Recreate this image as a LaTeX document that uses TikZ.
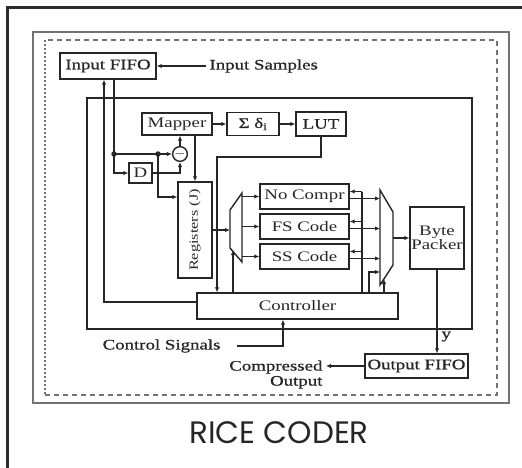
\documentclass[tikz,border=0pt]{standalone}
\usepackage{fontspec}
\setmainfont{Liberation Serif}[FakeStretch=1.3]
\newfontfamily\heavyfont{Liberation Serif}[FakeStretch=1.3, FakeBold=0.8]
\newfontfamily\titlefont{Poppins}
\usepackage{xcolor}
\usetikzlibrary{arrows.meta, positioning}
\definecolor{rcink}{RGB}{38,38,38}
\definecolor{rcgray}{RGB}{115,115,115}
\definecolor{rcframe}{RGB}{45,45,45}

\begin{document}
\begin{tikzpicture}[x=1pt, y=-1pt,
  every node/.style={font=\fontsize{14.5}{13}\selectfont, text=rcink},
  blk/.style={draw=rcink, line width=1.4pt, inner sep=1pt},
  lab/.style={font=\heavyfont\fontsize{14.5}{15}\selectfont},
  sig/.style={-{Latex[length=5pt, width=4.5pt]}, rcink, line width=1.2pt},
  wire/.style={rcink, line width=1.2pt},
  mux/.style={draw=rcink, line width=1.4pt},
  jdot/.style={circle, fill=rcink, inner sep=0pt, minimum size=5.5pt}
]
\useasboundingbox (0,0) rectangle (522,468);
% frames
\draw[rcframe, line width=3pt] (7,468) -- (7,8) -- (522,8);
\draw[rcgray, line width=1.3pt] (33,32) rectangle (509,403);
\draw[rcgray, line width=1.3pt, dash pattern=on 5pt off 4pt] (45,395) -- (497,395) -- (497,40) -- (45,40);
\draw[rcgray, line width=1.3pt, dash pattern=on 2pt off 2pt] (45,40) -- (45,395);
\draw[rcink, line width=2pt] (87,98) rectangle (472,329);

% blocks
\node[blk, lab, minimum width=96pt, minimum height=26pt] (fifo) at (108,66) {Input FIFO};
\node[lab, anchor=west] (samples) at (206,66) {Input Samples};
\node[blk, minimum width=70pt, minimum height=22pt] (mapper) at (177,124) {Mapper};
\node[blk, lab, minimum width=52pt, minimum height=23pt] (sigma) at (253,124) {Σ δ\textsubscript{i}};
\node[blk, lab, minimum width=50pt, minimum height=24pt] (lut) at (321,124) {LUT};
\node[circle, draw=rcink, line width=1.4pt, minimum size=14pt, inner sep=0pt] (minus) at (180,154) {$-$};
\node[blk, minimum width=23pt, minimum height=20pt] (delay) at (140.5,173) {D};
\node[blk, minimum width=34pt, minimum height=96pt] (regs) at (195,230) {};
\node[rotate=90, font=\fontsize{12.5}{13}\selectfont] (regstxt) at (regs) {Registers (J)};
\node[blk, minimum width=89pt, minimum height=25pt] (nocompr) at (304.5,196.5) {No Compr};
\node[blk, minimum width=89pt, minimum height=25pt] (fs) at (304.5,226.5) {FS Code};
\node[blk, minimum width=89pt, minimum height=25pt] (ss) at (304.5,256.5) {SS Code};
\node[blk, minimum width=54pt, minimum height=62pt, align=center] (packer) at (437,238) {Byte\\Packer};
\node[blk, minimum width=201pt, minimum height=26pt] (ctrl) at (297.5,306) {Controller};
\node[blk, lab, minimum width=103pt, minimum height=24pt] (ofifo) at (416.5,366) {Output FIFO};
\node[lab, anchor=east] (ctrlsig) at (224,346) {Control Signals};
\node[lab, align=right, anchor=north east] (cmp) at (326,357) {Compressed\\Output};
\node[font=\titlefont\fontsize{31}{34}\selectfont] (title) at (279,433) {RICE CODER};

% muxes
\draw[mux] (242,193) -- (230,210) -- (230,248) -- (242,262) -- cycle;
\draw[mux] (380,190) -- (393,212) -- (393,265) -- (380,285) -- cycle;

% junctions
\coordinate (j1) at (114,154);
\coordinate (j2) at (158,154);
\coordinate (lutc) at (217,157);
\coordinate (fbk) at (104,302);
\coordinate (m1in) at (230,229);
\coordinate (m1out) at (242,0);
\coordinate (sel1) at (233,250);
\coordinate (en) at (362,192);
\coordinate (m2in) at (380,0);
\coordinate (m2out) at (393,238);
\coordinate (lp) at (369,272);
\coordinate (sel2) at (384,279);

% front end
\draw[sig] (samples) -- (fifo);
\draw[wire] (fifo.south -| j1) -- (j1);
\draw[sig] (j1) |- (delay.west);
\draw[sig] (j1) -- (minus);
\node[jdot] (dot1) at (j1) {};
\node[jdot] (dot2) at (j2) {};
\draw[sig] (delay.east) -| (minus.south);
\draw[sig] (minus) -- (minus |- mapper.south);
\draw[sig] (j2) |- ([yshift=33pt]regs.west);
\draw[sig] (mapper) -- (sigma);
\draw[sig] (sigma) -- (lut);
\draw[sig] (mapper.south -| regs.north) -- (regs.north);
\draw[sig] (lut.south) |- (lutc) -- (lutc |- ctrl.north);
\draw[sig] (ctrl.west |- fbk) -- (fbk) -- (fbk |- fifo.south);

% coders
\draw[sig] (regs.east) -- (regs.east -| m1in);
\draw[sig] (sel1 |- ctrl.north) -- (sel1);
\foreach \b in {nocompr, fs, ss} {
  \coordinate (\b-in) at ([yshift=5pt]\b.east);
  \coordinate (\b-out) at ([yshift=-2pt]\b.east);
  \draw[sig] (\b.west -| m1out) -- (\b.west);
  \draw[sig] (\b-in -| en) -- (\b-in);
  \draw[sig] (\b-out) -- (\b-out -| m2in);
}
\draw[wire] (en |- ctrl.north) -- (en);
\draw[sig] (m2out) -- (packer);
\draw[sig] (lp |- ctrl.north) -- (lp) -- (lp -| m2in);
\draw[sig] (sel2 |- ctrl.north) -- (sel2);

% outputs
\draw[sig, line width=2.4pt] (packer.south) -- (packer.south |- ofifo.north) node[lab, pos=0.8, right] (ylab) {y};
\draw[sig, line width=2pt, shorten <=13pt] (ctrlsig.east) -| ([xshift=-14.5pt]ctrl.south);
\draw[sig] (ofifo.west) -- (ofifo.west -| cmp.east);
\end{tikzpicture}
\end{document}
